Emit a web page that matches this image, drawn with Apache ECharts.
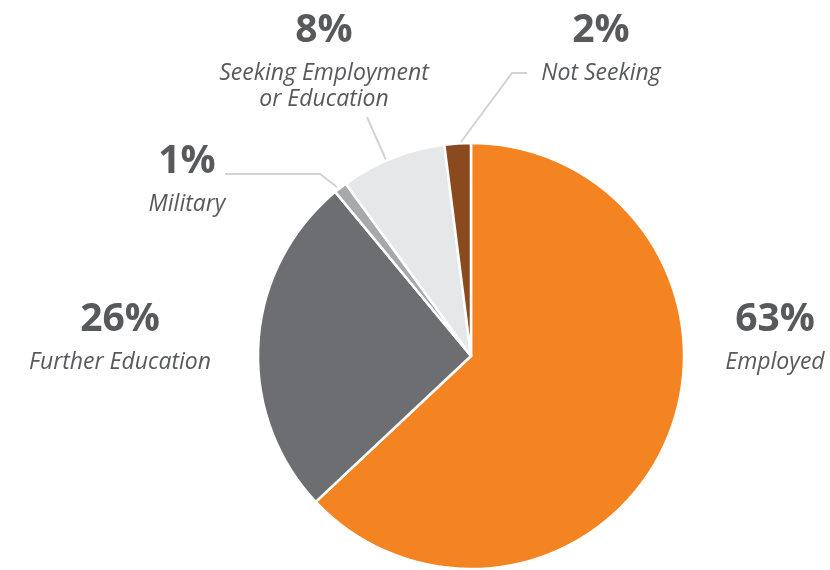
<!DOCTYPE html>
<html>
<head>
<meta charset="utf-8">
<script src="https://cdn.jsdelivr.net/npm/echarts@6/dist/echarts.min.js"></script>
<style>
  html, body { margin: 0; padding: 0; background: #ffffff; }
  #chart { width: 830px; height: 570px; }
</style>
</head>
<body>
<div id="chart"></div>
<script>
// Post-graduation outcomes (percent of graduates)
const categories = ['Employed', 'Further Education', 'Military', 'Seeking Employment\nor Education', 'Not Seeking'];
const shares = [63, 26, 1, 8, 2];
const sliceColors = ['#F38421', '#6D6E71', '#A7A9AC', '#E6E7E8', '#8B4A1E'];

// Where each label block sits (center x, top y) and its leader line, if any
const labelSpots = [
  { x: 775, y: 297, line: null },
  { x: 120, y: 297, line: null },
  { x: 187, y: 139, line: [[337, 187], [320, 174], [225, 174]] },
  { x: 324, y: 8,   line: [[386, 160], [367, 117]] },
  { x: 601, y: 8,   line: [[461, 142], [512, 73], [527, 73]] }
];

const textColor = '#58595B';
const chart = echarts.init(document.getElementById('chart'), null, { renderer: 'canvas' });

chart.setOption({
  animation: false,
  backgroundColor: '#ffffff',
  series: [{
    type: 'pie',
    center: [471, 356],
    radius: [0, 213],
    startAngle: 90,
    clockwise: true,
    avoidLabelOverlap: false,
    data: categories.map((name, i) => ({
      name: name,
      value: shares[i],
      itemStyle: { color: sliceColors[i] },
      labelLine: { show: !!labelSpots[i].line }
    })),
    itemStyle: { borderColor: '#ffffff', borderWidth: 2.5 },
    emphasis: { disabled: true },
    label: {
      show: true,
      position: 'outside',
      formatter: p => {
        const lines = p.name.split('\n');
        let s = '{p|' + p.value + '%}\n{n|' + lines[0] + '}';
        for (let k = 1; k < lines.length; k++) s += '\n{m|' + lines[k] + '}';
        return s;
      },
      align: 'center',
      rich: {
        p: { fontFamily: 'Open Sans', fontWeight: 'bold', fontSize: 39, color: textColor, lineHeight: 46, align: 'center' },
        n: { fontFamily: 'Open Sans', fontStyle: 'italic', fontWeight: 400, fontSize: 23, color: textColor, lineHeight: 38, align: 'center' },
        m: { fontFamily: 'Open Sans', fontStyle: 'italic', fontWeight: 400, fontSize: 23, color: textColor, lineHeight: 14, align: 'center' }
      }
    },
    labelLine: {
      show: true,
      lineStyle: { color: '#D1D3D4', width: 2 }
    },
    labelLayout: params => {
      const spot = labelSpots[params.dataIndex];
      return {
        x: spot.x,
        y: spot.y,
        align: 'center',
        verticalAlign: 'top',
        labelLinePoints: spot.line || [[0, 0], [0, 0], [0, 0]]
      };
    }
  }]
});
</script>
</body>
</html>
